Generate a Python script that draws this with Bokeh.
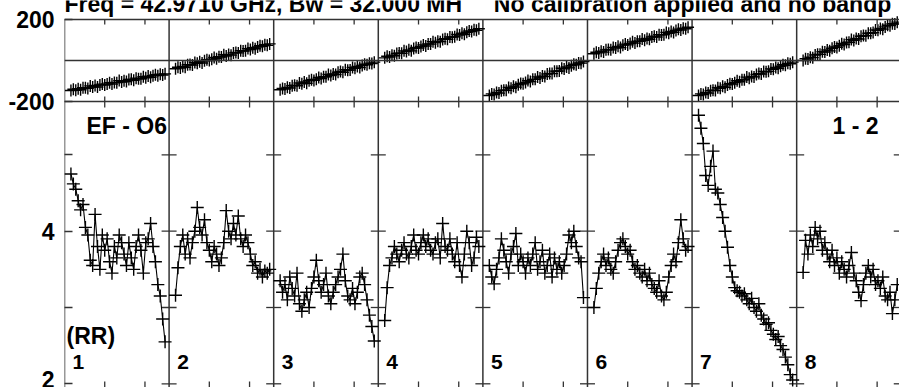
from bokeh.plotting import figure
from bokeh.models import (Range1d, LinearAxis, FixedTicker, CustomJSTickFormatter,
                          Span, Label, Grid)
from bokeh.embed import file_html
from bokeh.resources import INLINE

# ---------------- data ----------------
SUBBANDS = ["1", "2", "3", "4", "5", "6", "7", "8"]
CHANNELS = list(range(8, 126, 3))          # 40 channels sampled per sub-band
CHANNELS_PER_SUBBAND = 130
CHANNEL_TICKS = [50, 100]
AMP_TICKS = [2, 4]
AMP_MINOR_TICKS = [3, 5]
AMP_LEVELS = [2, 3, 4, 5]
PHASE_TICKS = [-200, 200]
TITLE_LEFT = "Freq = 42.9710 GHz, Bw = 32.000 MH"
TITLE_RIGHT = "No calibration applied and no bandp"
BASELINE_LABEL = "EF - O6"
SCAN_LABEL = "1 - 2"
POL_LABEL = "(RR)"

amp_1 = [4.75, 4.62, 4.55, 4.40, 4.28, 4.35, 4.05, 3.95, 3.62, 3.55, 4.22, 3.80, 3.50, 3.95,
         3.75, 3.90, 3.60, 3.45, 3.80, 3.65, 3.95, 3.85, 3.70, 3.55, 3.85, 3.65, 3.50, 3.80,
         3.95, 3.75, 3.45, 3.85, 3.90, 4.10, 3.80, 3.60, 3.30, 3.15, 2.85, 2.55]
amp_2 = [3.16, 3.52, 3.80, 3.95, 3.70, 3.90, 3.65, 3.85, 4.00, 4.31, 4.05, 3.95, 4.15, 3.85,
         3.75, 3.60, 3.80, 3.70, 3.55, 3.65, 3.85, 4.27, 4.00, 3.90, 4.10, 3.95, 4.20, 3.90,
         3.80, 3.95, 3.85, 3.70, 3.55, 3.60, 3.45, 3.50, 3.40, 3.48, 3.45, 3.50]
amp_3 = [3.35, 3.20, 3.30, 3.10, 3.40, 3.25, 3.15, 3.45, 3.05, 2.95, 3.10, 3.20, 3.00, 3.25,
         3.40, 3.62, 3.35, 3.20, 3.30, 3.45, 3.15, 3.05, 3.20, 3.30, 3.40, 3.50, 3.70, 3.35,
         3.15, 3.10, 3.25, 3.05, 3.20, 3.40, 3.45, 3.30, 3.10, 2.90, 2.75, 2.56]
amp_4 = [2.83, 3.26, 3.55, 3.65, 3.80, 3.70, 3.60, 3.75, 3.85, 3.70, 3.65, 3.80, 3.95, 3.75,
         3.70, 3.85, 3.95, 3.80, 3.90, 3.75, 3.70, 3.85, 3.90, 3.65, 4.10, 3.80, 3.75, 3.90,
         3.70, 3.60, 3.85, 3.55, 3.40, 3.70, 4.00, 3.85, 3.55, 3.65, 3.92, 3.80]
amp_5 = [3.55, 3.40, 3.31, 3.50, 3.65, 3.90, 3.75, 3.60, 3.45, 3.70, 3.80, 3.97, 3.55, 3.70,
         3.60, 3.45, 3.65, 3.55, 3.70, 3.85, 3.50, 3.60, 3.75, 3.45, 3.55, 3.70, 3.40, 3.65,
         3.50, 3.60, 3.45, 3.55, 3.70, 3.95, 3.85, 4.00, 3.80, 3.65, 3.60, 3.13]
amp_6 = [3.00, 3.25, 3.45, 3.60, 3.70, 3.55, 3.65, 3.50, 3.45, 3.60, 3.75, 3.85, 3.90, 3.80,
         3.70, 3.75, 3.60, 3.50, 3.55, 3.45, 3.40, 3.50, 3.35, 3.45, 3.30, 3.25, 3.20, 3.35,
         3.15, 3.10, 3.20, 3.40, 3.55, 3.70, 3.60, 3.85, 4.15, 3.90, 3.75, 3.80]
amp_7 = [5.52, 5.35, 5.15, 4.73, 4.60, 4.85, 5.05, 4.55, 4.50, 4.35, 4.18, 4.00, 3.79, 3.55,
         3.40, 3.26, 3.22, 3.20, 3.15, 3.18, 3.10, 3.05, 3.12, 3.00, 2.95, 3.05, 2.90, 2.85,
         2.78, 2.80, 2.70, 2.65, 2.58, 2.62, 2.50, 2.45, 2.35, 2.25, 2.12, 2.05]
amp_8 = [3.46, 3.88, 3.70, 3.95, 3.80, 4.05, 3.90, 4.00, 3.75, 3.85, 3.70, 3.60, 3.75, 3.55,
         3.65, 3.45, 3.60, 3.50, 3.40, 3.55, 3.72, 3.45, 3.35, 3.20, 3.09, 3.30, 3.45, 3.55,
         3.40, 3.50, 3.30, 3.35, 3.25, 3.40, 3.15, 3.10, 3.20, 2.92, 3.10, 3.30]

phase_1 = [-146, -140, -145, -138, -143, -133, -133, -136, -124, -129, -122, -129, -119, -115,
           -120, -115, -108, -115, -107, -108, -98, -105, -99, -103, -93, -92, -96, -86,
           -89, -89, -79, -84, -76, -82, -74, -69, -74, -67, -71, -65]
phase_2 = [-40, -33, -37, -29, -33, -21, -20, -22, -10, -14, -6, -12, -1, 4,
           0, 6, 15, 9, 18, 17, 28, 22, 29, 26, 37, 39, 37, 48,
           46, 47, 58, 54, 62, 57, 66, 72, 69, 77, 74, 81]
phase_3 = [-143, -136, -139, -131, -134, -123, -121, -123, -110, -114, -105, -111, -99, -94,
           -97, -91, -83, -88, -79, -79, -68, -73, -66, -68, -57, -54, -57, -45,
           -47, -46, -34, -38, -29, -34, -24, -18, -21, -13, -15, -8]
phase_4 = [13, 21, 17, 26, 23, 34, 36, 35, 47, 44, 52, 47, 59, 64,
           61, 68, 76, 71, 81, 80, 92, 87, 94, 92, 103, 106, 104, 115,
           114, 116, 127, 124, 133, 128, 138, 144, 141, 150, 147, 155]
phase_5 = [-171, -163, -166, -156, -159, -147, -145, -145, -132, -135, -125, -130, -118, -112,
           -114, -107, -98, -103, -92, -92, -80, -85, -76, -78, -66, -63, -64, -52,
           -53, -51, -38, -41, -32, -36, -25, -18, -21, -12, -13, -5]
phase_6 = [33, 40, 37, 45, 41, 52, 54, 52, 64, 61, 69, 63, 75, 80,
           76, 83, 91, 85, 94, 94, 105, 99, 107, 104, 115, 118, 115, 126,
           125, 126, 137, 133, 142, 137, 146, 153, 149, 157, 155, 162]
phase_7 = [-171, -163, -166, -156, -159, -147, -145, -146, -133, -135, -126, -131, -119, -113,
           -115, -108, -99, -104, -94, -94, -81, -86, -78, -80, -68, -64, -66, -54,
           -55, -53, -41, -43, -34, -38, -28, -21, -23, -14, -16, -8]
phase_8 = [0, 9, 7, 16, 14, 27, 30, 30, 43, 41, 51, 47, 60, 66,
           64, 72, 82, 78, 88, 89, 102, 98, 107, 105, 118, 122, 121, 133,
           133, 136, 149, 147, 156, 153, 164, 172, 170, 179, 178, 187]

AMPLITUDES = [amp_1, amp_2, amp_3, amp_4, amp_5, amp_6, amp_7, amp_8]
PHASES = [phase_1, phase_2, phase_3, phase_4, phase_5, phase_6, phase_7, phase_8]

# ---------------- layout / style ----------------
FONT = "Liberation Sans"
INK = "black"
FRAME = "#333333"
FRAME_H = 387                      # frame height in px (frame spans the whole canvas height)
X_END = 1037.8
A0, A1 = 1.9515, 7.0236            # amplitude range (lower panel scale)
P0, P1 = -1595.1, 292.7            # phase range (upper panel scale)
AMP_PER_PX = (A1 - A0) / FRAME_H
DEG_PER_PX = (P1 - P0) / FRAME_H


def amp_of_phase(ph):
    return A0 + (ph - P0) / (P1 - P0) * (A1 - A0)


p = figure(width=899, height=387, output_backend="svg", toolbar_location=None,
           x_range=Range1d(0, X_END), y_range=Range1d(A0, A1),
           x_axis_location=None, y_axis_location=None,
           min_border_left=64, min_border_right=0, min_border_top=0, min_border_bottom=0)
p.extra_y_ranges = {"phase": Range1d(P0, P1)}
p.outline_line_color = None
p.background_fill_color = "white"
p.border_fill_color = "white"
p.center = [c for c in p.center if not isinstance(c, Grid)]

n_sb = len(SUBBANDS)
boundaries = [k * CHANNELS_PER_SUBBAND for k in range(n_sb + 1)]
chan_ticks = [k * CHANNELS_PER_SUBBAND + t for k in range(n_sb) for t in CHANNEL_TICKS]
box_top = amp_of_phase(PHASE_TICKS[1])

# left frame edge and sub-band separators (from the bottom up to the phase box top)
p.segment(x0=boundaries, y0=[A0] * len(boundaries), x1=boundaries,
          y1=[box_top] * len(boundaries), line_color=FRAME, line_width=1.5)

# left axis: amplitude ticks (2, 4) and phase ticks (-200, 200)
left_ticks = list(AMP_TICKS) + [amp_of_phase(v) for v in PHASE_TICKS]
fmt = CustomJSTickFormatter(args=dict(a0=A0, a1=A1, p0=P0, p1=P1,
                                      split=amp_of_phase(PHASE_TICKS[0]) - 0.2),
                            code="""
if (tick > split) {
  const ph = p0 + (tick - a0) * (p1 - p0) / (a1 - a0);
  return Math.round(ph).toString();
}
return tick.toFixed(0);
""")
left = LinearAxis(ticker=FixedTicker(ticks=left_ticks, minor_ticks=AMP_MINOR_TICKS),
                  formatter=fmt,
                  major_tick_in=8, major_tick_out=0, minor_tick_in=8, minor_tick_out=0,
                  major_tick_line_color=FRAME, minor_tick_line_color=FRAME,
                  major_tick_line_width=1.3, minor_tick_line_width=1.3,
                  axis_line_color=None,
                  major_label_standoff=10,
                  major_label_text_font=FONT, major_label_text_font_size="23px",
                  major_label_text_font_style="bold", major_label_text_color=INK)
p.add_layout(left, "left")

# phase box top, panel boundary and phase zero line
for loc, w in ((PHASE_TICKS[1], 1.5), (PHASE_TICKS[0], 1.5), (0, 1.3)):
    p.add_layout(Span(location=loc, dimension="width", y_range_name="phase",
                      line_color=FRAME, line_width=w))

# ticks across separators (amplitude levels)
sep_x = [b for b in boundaries[1:] for _ in AMP_LEVELS]
sep_y = [lv for _ in boundaries[1:] for lv in AMP_LEVELS]
p.scatter(sep_x, sep_y, marker="dash", size=15, line_color=FRAME, line_width=1.3)

# channel ticks: box top (inward), panel boundary (both ways), bottom edge (inward)
n_t = len(chan_ticks)
p.segment(x0=chan_ticks, x1=chan_ticks, y0=[PHASE_TICKS[1]] * n_t,
          y1=[PHASE_TICKS[1] - 5 * DEG_PER_PX] * n_t, y_range_name="phase",
          line_color=FRAME, line_width=1.3)
p.segment(x0=chan_ticks, x1=chan_ticks, y0=[PHASE_TICKS[0] + 5 * DEG_PER_PX] * n_t,
          y1=[PHASE_TICKS[0] - 6 * DEG_PER_PX] * n_t, y_range_name="phase",
          line_color=FRAME, line_width=1.3)
p.segment(x0=chan_ticks, x1=chan_ticks, y0=[A0] * n_t,
          y1=[A0 + 6 * AMP_PER_PX] * n_t, line_color=FRAME, line_width=1.3)

# data
for i in range(n_sb):
    xs = [i * CHANNELS_PER_SUBBAND + c for c in CHANNELS]
    p.line(xs, AMPLITUDES[i], line_color=INK, line_width=1.1)
    p.scatter(xs, AMPLITUDES[i], marker="cross", size=13, line_color=INK, line_width=1.4)
    p.line(xs, PHASES[i], y_range_name="phase", line_color=INK, line_width=1.1)
    p.scatter(xs, PHASES[i], y_range_name="phase", marker="cross", size=12,
              line_color=INK, line_width=1.4)


def add_label(x, y, text, size="23px", align="left"):
    p.add_layout(Label(x=x, y=y, text=text, text_font=FONT, text_font_size=size,
                       text_font_style="bold", text_color=INK, text_align=align,
                       text_baseline="alphabetic"))


add_label(0, 6.975, TITLE_LEFT)
add_label(533.6, 6.975, TITLE_RIGHT)
add_label(27.3, 5.381, BASELINE_LABEL)
add_label(1011.7, 5.381, SCAN_LABEL, align="right")
add_label(2.5, 2.633, POL_LABEL)
for i, name in enumerate(SUBBANDS):
    add_label(i * CHANNELS_PER_SUBBAND + 10, 2.287, name, size="21px")

open("out.html", "w").write(file_html(p, INLINE))
